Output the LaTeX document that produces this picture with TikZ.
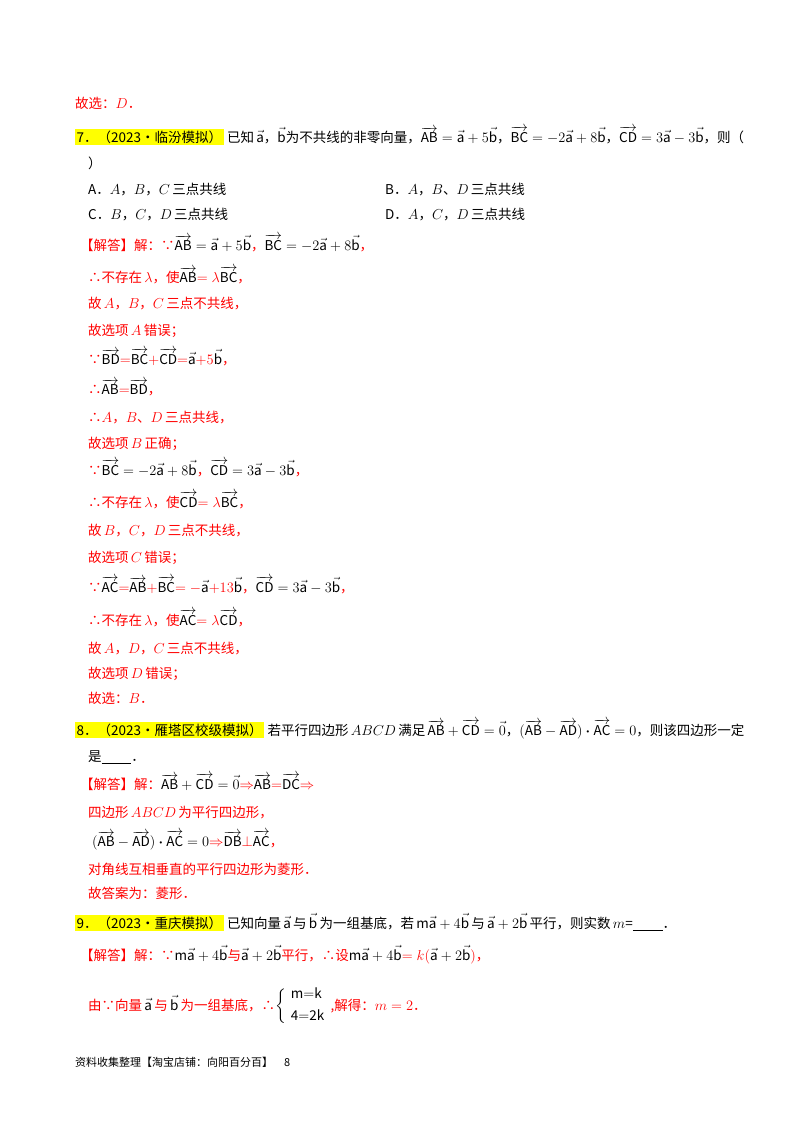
\documentclass[tikz,border=0pt]{standalone}
\usepackage{amsmath}
\usepackage{fontspec}
\setmainfont{Noto Sans CJK SC}
\definecolor{rd}{RGB}{255,0,0}
\definecolor{hl}{RGB}{255,255,0}
\newcommand\vx[1]{\overrightarrow{\mathrm{#1}}}
\newcommand\va{\vec{\mathrm{a}}}
\newcommand\vb{\vec{\mathrm{b}}}
\begin{document}
\begin{tikzpicture}[x=1pt,y=-1pt,
  t/.style={anchor=base west,inner sep=0pt,font=\fontsize{13.5}{15}\selectfont},
  r/.style={t,text=rd},
  h/.style={t,fill=hl,inner sep=1.5pt}]
\useasboundingbox (0,0) rectangle (800,1132);
\node[r] (l1) at (75,108) {故选：$D$．};
\node[h] (q7) at (75,142) {7．（2023•临汾模拟）};
\node[t] (q7b) at ([xshift=3pt]q7.base east) {已知\,$\va$，$\vb$为不共线的非零向量，$\vx{AB}=\va+5\vb$，$\vx{BC}=-2\va+8\vb$，$\vx{CD}=3\va-3\vb$，则（};
\node[t] (q7c) at (88,168) {）};
\node[t] (oa) at (88,194) {A．$A$，$B$，$C$\,三点共线};
\node[t] (ob) at (385,194) {B．$A$，$B$、$D$\,三点共线};
\node[t] (oc) at (88,219) {C．$B$，$C$，$D$\,三点共线};
\node[t] (od) at (385,219) {D．$A$，$C$，$D$\,三点共线};
\node[r] (s1) at (80,250) {【解答】解：∵\textcolor{black}{$\vx{AB}=\va+5\vb$}，\textcolor{black}{$\vx{BC}=-2\va+8\vb$}，};
\node[r] (s2) at (88,282) {∴不存在\,$\lambda$，使\textcolor{black}{$\vx{AB}$}$=\lambda$\textcolor{black}{$\vx{BC}$}，};
\node[r] (s3) at (88,308) {故\,$A$，$B$，$C$\,三点不共线，};
\node[r] (s4) at (88,335) {故选项\,$A$\,错误；};
\node[r] (s5) at (88,364) {∵\textcolor{black}{$\vx{BD}$}$=$\textcolor{black}{$\vx{BC}$}$+$\textcolor{black}{$\vx{CD}$}$=$\textcolor{black}{$\va$}$+5$\textcolor{black}{$\vb$}，};
\node[r] (s6) at (88,394) {∴\textcolor{black}{$\vx{AB}$}$=$\textcolor{black}{$\vx{BD}$}，};
\node[r] (s7) at (88,422) {∴$A$，$B$、$D$\,三点共线，};
\node[r] (s8) at (88,448) {故选项\,$B$\,正确；};
\node[r] (s9) at (88,475) {∵\textcolor{black}{$\vx{BC}=-2\va+8\vb$}，\textcolor{black}{$\vx{CD}=3\va-3\vb$}，};
\node[r] (s10) at (88,507) {∴不存在\,$\lambda$，使\textcolor{black}{$\vx{CD}$}$=\lambda$\textcolor{black}{$\vx{BC}$}，};
\node[r] (s11) at (88,535) {故\,$B$，$C$，$D$\,三点不共线，};
\node[r] (s12) at (88,562) {故选项\,$C$\,错误；};
\node[r] (s13) at (88,592) {∵\textcolor{black}{$\vx{AC}$}$=$\textcolor{black}{$\vx{AB}$}$+$\textcolor{black}{$\vx{BC}$}$=-$\textcolor{black}{$\va$}$+13$\textcolor{black}{$\vb$}，\textcolor{black}{$\vx{CD}=3\va-3\vb$}，};
\node[r] (s14) at (88,625) {∴不存在\,$\lambda$，使\textcolor{black}{$\vx{AC}$}$=\lambda$\textcolor{black}{$\vx{CD}$}，};
\node[r] (s15) at (88,653) {故\,$A$，$D$，$C$\,三点不共线，};
\node[r] (s16) at (88,678) {故选项\,$D$\,错误；};
\node[r] (s17) at (88,703) {故选：$B$．};
\node[h] (q8) at (75,735) {8．（2023•雁塔区校级模拟）};
\node[t] (q8b) at ([xshift=3pt]q8.base east) {若平行四边形\,$ABCD$\,满足\,$\vx{AB}+\vx{CD}=\vec{0}$，$(\vx{AB}-\vx{AD})\boldsymbol{\cdot}\vx{AC}=0$，则该四边形一定};
\node[t] (q8c) at (88,761) {是\underline{\hspace{2.2em}}．};
\node[r] (u1) at (80,789) {【解答】解：\textcolor{black}{$\vx{AB}+\vx{CD}=\vec{0}$}$\Rightarrow$\textcolor{black}{$\vx{AB}$}$=$\textcolor{black}{$\vx{DC}$}$\Rightarrow$};
\node[r] (u2) at (88,817) {四边形\,$ABCD$\,为平行四边形，};
\node[r] (u3) at (92,846) {\textcolor{black}{$(\vx{AB}-\vx{AD})\boldsymbol{\cdot}\vx{AC}=0$}$\Rightarrow$\textcolor{black}{$\vx{DB}$}$\perp$\textcolor{black}{$\vx{AC}$}，};
\node[r] (u4) at (88,874) {对角线互相垂直的平行四边形为菱形．};
\node[r] (u5) at (88,898) {故答案为：菱形．};
\node[h] (q9) at (75,928) {9．（2023•重庆模拟）};
\node[t] (q9b) at ([xshift=3pt]q9.base east) {已知向量\,$\va$\,与\,$\vb$\,为一组基底，若\,$\mathrm{m}\va+4\vb$\,与\,$\va+2\vb$\,平行，则实数\,$m$=\underline{\hspace{2.2em}}．};
\node[r] (v1) at (80,960) {【解答】解：∵\textcolor{black}{$\mathrm{m}\va+4\vb$}与\textcolor{black}{$\va+2\vb$}平行，∴设\textcolor{black}{$\mathrm{m}\va+4\vb$}$=k($\textcolor{black}{$\va+2\vb$}$)$，};
\node[r] (v2) at (88,1010) {由∵向量\,\textcolor{black}{$\va$}\,与\,\textcolor{black}{$\vb$}\,为一组基底，∴\textcolor{black}{$\left\{\begin{array}{l}\mathrm{m{=}k}\\[6pt]\mathrm{4{=}2k}\end{array}\right.$},解得：$m=2$．};
\node[t,font=\fontsize{11}{13}\selectfont] (ft) at (75,1066) {资料收集整理【淘宝店铺：向阳百分百】\quad 8};
\end{tikzpicture}
\end{document}
